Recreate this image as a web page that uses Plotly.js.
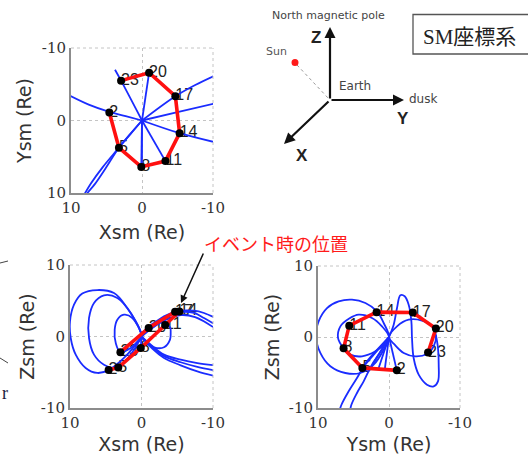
<!DOCTYPE html>
<html>
<head>
<meta charset="utf-8">
<script src="https://cdn.plot.ly/plotly-3.0.1.min.js"></script>
<style>html,body{margin:0;padding:0;background:#fff;}#chart{width:528px;height:455px;}</style>
</head>
<body>
<div id="chart"></div>
<script>
// ---- satellite positions (SM coordinates, Re) at each hour ----
const hours = ['2', '5', '8', '11', '14', '17', '20', '23'];
const xsm = [4.6, 3.25, 0.1, -3.3, -5.3, -4.7, -1.0, 2.95];
const ysm = [-1.1, 3.75, 6.4, 5.6, 1.75, -3.35, -6.6, -5.5];
const zsm = [-4.7, -4.35, -1.6, 1.6, 3.5, 3.45, 1.2, -2.2];

// ---- field lines, Xsm-Ysm projection ----
const fieldXY_X = [
  [0, 2.3, 4.6, 7.5, 10.5],
  [0, 2.95, 3.8],
  [0, -1.0],
  [0, -4.7, -7.5, -10.5],
  [0, -5.0, -10.5],
  [0, -5.3, -10.5],
  [0, -3.3],
  [0, 0.1],
  [0, 0.02],
  [0, 1.6, 3.25, 5.5, 7.2, 8.3],
  [0, 1.7, 3.25, 5.1, 6.7, 7.6, 7.9]
];
const fieldXY_Y = [
  [0, -0.6, -1.2, -2.2, -3.6],
  [0, -5.5, -7.0],
  [0, -6.6],
  [0, -3.35, -4.9, -6.3],
  [0, -1.15, -2.4],
  [0, 1.75, 3.05],
  [0, 5.6],
  [0, 6.4],
  [0, 6.3],
  [0, 1.8, 3.75, 6.4, 8.7, 10.5],
  [0, 1.95, 3.75, 6.55, 8.85, 9.9, 10.5]
];

// ---- field lines, Xsm-Zsm projection ----
const fieldXZ_X = [
  [0, 0.82, 1.98, 3.85, 6.18, 8.28, 9.44, 10.0, 9.9, 9.2, 7.81, 6.18, 4.6, 2.45, 0.82, 0],
  [0, 1.52, 3.38, 5.25, 6.64, 7.34, 7.34, 6.64, 5.25, 3.25, 1.52, 0.49, 0],
  [0, 1.28, 2.45, 3.38, 3.75, 3.6, 2.95, 1.52, 0.35, 0],
  [0, -1.05, -2.21, -3.3, -4.0, -4.08, -3.99, -3.15, -1.75, -0.58, 0],
  [0, -1.28, -3.15, -5.0, -7.34, -8.74, -10.5],
  [0, -1.4, -3.3, -5.3, -7.34, -8.74, -10.5],
  [0, -1.5, -3.5, -5.5, -7.5, -10.5],
  [0, -1.37, -3.15, -5.48, -7.81, -10.5],
  [0, -1.45, -3.15, -5.48, -7.81, -10.5],
  [0, -1.51, -3.15, -5.48, -7.81, -10.5],
  [0, -1.0],
  [0, 0.1]
];
const fieldXZ_Z = [
  [0, 2.12, 3.99, 6.08, 6.5, 6.0, 4.45, 2.12, -0.21, -2.54, -4.4, -5.1, -4.7, -3.0, -1.14, 0],
  [0, 3.29, 5.39, 5.76, 4.69, 2.59, -0.21, -2.54, -3.94, -4.35, -2.54, -0.9, 0],
  [0, 2.59, 3.05, 2.35, 0.96, -0.91, -2.2, -1.6, -0.44, 0],
  [0, 1.42, 2.0, 1.75, 1.3, 0.5, -0.44, -1.51, -1.51, -0.68, 0],
  [0, 1.42, 2.82, 3.52, 3.61, 3.29, 2.5],
  [0, 1.3, 2.6, 3.4, 3.29, 2.59, 1.55],
  [0, 1.2, 2.4, 3.0, 2.7, 1.0],
  [0, -1.23, -2.54, -3.24, -3.71, -4.05],
  [0, -1.45, -2.75, -3.6, -4.25, -4.8],
  [0, -1.7, -3.0, -4.03, -4.87, -5.6],
  [0, 1.2],
  [0, -1.6]
];

// ---- field lines, Ysm-Zsm projection ----
const fieldYZ_Y = [
  [0, 0.75, 1.69, 3.33, 5.21, 7.09, 8.73, 9.91, 10.28, 9.67, 8.26, 6.15, 4.04, 2.16, 0.75, 0],
  [0, 0.99, 2.4, 4.27, 5.6, 6.85, 7.18, 6.4, 5.45, 3.8, 1.92, 0.52, 0],
  [0, -1.13, -2.77, -4.65, -6.06, -6.62, -6.29, -5.35, -3.71, -2.07, -0.8, 0],
  [0, -0.66, -1.13, -1.6, -2.21, -2.77, -3.15, -3.24, -3.47, -4.18, -5.35, -6.29, -6.9, -7.0, -6.9, -6.6],
  [0, 1.46, 3.1, 4.51, 5.68, 6.71, 7.0],
  [0, 0.99, 2.4, 3.57, 4.51, 5.31, 5.5],
  [0, -1.1],
  [0, 3.75],
  [0, 1.5],
  [0, 0.6],
  [0, 2.6]
];
const fieldYZ_Z = [
  [0, 1.97, 3.61, 4.79, 5.26, 5.02, 4.08, 2.21, 0.1, -2.25, -4.13, -5.07, -5.07, -3.9, -1.78, 0],
  [0, 1.5, 2.68, 3.15, 2.6, 1.5, -0.14, -1.6, -2.49, -2.72, -2.02, -0.85, 0],
  [0, 1.5, 2.44, 2.3, 1.5, 0.1, -1.31, -2.39, -2.72, -2.25, -1.08, 0],
  [0, 1.74, 4.08, 5.87, 5.73, 4.55, 2.21, -0.14, -2.96, -5.3, -6.71, -6.95, -6.24, -3.9, -1.55, 0.3],
  [0, -1.55, -3.43, -5.78, -7.65, -9.58, -10.5],
  [0, -1.78, -3.9, -6.24, -7.89, -9.58, -10.5],
  [0, -4.7],
  [0, -4.35],
  [0, -4.5],
  [0, -4.6],
  [0, -4.4]
];

const tickVals = [-10, 0, 10];
const tickText = ['-10', '0', '10'];

// ---- helpers ----
const W = 528, H = 455;
const px = x => x / W;
const py = y => 1 - y / H;
const BLUE = '#1a2cff';

const traces = [];
function panel(xs, ys, fx, fy, xa, ya) {
  // labels first (they sit under the lines)
  traces.push({x: xs, y: ys, text: hours, mode: 'text', textposition: 'middle right',
    textfont: {family: 'Liberation Sans, Arial', size: 16, color: '#222'},
    xaxis: xa, yaxis: ya, hoverinfo: 'skip', cliponaxis: false});
  for (let i = 0; i < fx.length; i++) {
    traces.push({x: fx[i], y: fy[i], mode: 'lines', line: {color: BLUE, width: 1.8, shape: 'spline', smoothing: 1},
      xaxis: xa, yaxis: ya, hoverinfo: 'skip'});
  }
  traces.push({x: xs, y: ys, mode: 'lines', line: {color: '#ff1010', width: 3.6},
    xaxis: xa, yaxis: ya, hoverinfo: 'skip'});
  traces.push({x: xs, y: ys, mode: 'markers', marker: {color: '#000', size: 8},
    xaxis: xa, yaxis: ya, hoverinfo: 'skip'});
}
panel(xsm, ysm, fieldXY_X, fieldXY_Y, 'x', 'y');
panel(xsm, zsm, fieldXZ_X, fieldXZ_Z, 'x2', 'y2');
panel(ysm, zsm, fieldYZ_Y, fieldYZ_Z, 'x3', 'y3');

function axis(domain, range, anchor, title, standoff) {
  return {
    domain: domain, range: range, anchor: anchor,
    tickmode: 'array', tickvals: tickVals, ticktext: tickText,
    showgrid: true, gridcolor: '#c4c4c4', griddash: 'dot', gridwidth: 1,
    zeroline: false, showline: true, linecolor: '#8c8c8c', linewidth: 2,
    ticks: '', tickfont: {family: 'DejaVu Serif', size: 15, color: '#333'},
    title: {text: title, font: {family: 'DejaVu Sans', size: 19, color: '#333'}, standoff: standoff},
    fixedrange: true, automargin: false
  };
}

const dom1x = [px(71), px(213)], dom1y = [py(193), py(48)];
const dom2x = [px(70), px(213)], dom2y = [py(408), py(265)];
const dom3x = [px(318), px(460)], dom3y = [py(408), py(266)];

const shapes = [];
[['x', 'y'], ['x2', 'y2'], ['x3', 'y3']].forEach(([xa, ya]) => {
  shapes.push({type: 'line', xref: xa + ' domain', yref: ya + ' domain', x0: 0, x1: 1, y0: 1, y1: 1,
    line: {color: '#c4c4c4', width: 1, dash: 'dot'}});
  shapes.push({type: 'line', xref: xa + ' domain', yref: ya + ' domain', x0: 1, x1: 1, y0: 0, y1: 1,
    line: {color: '#c4c4c4', width: 1, dash: 'dot'}});
});
// coordinate-system box
shapes.push({type: 'rect', xref: 'paper', yref: 'paper', x0: px(413), x1: px(535), y0: py(54), y1: py(14.5),
  line: {color: '#555', width: 1.3}, fillcolor: 'rgba(0,0,0,0)'});
// sun and sun-earth line
shapes.push({type: 'line', xref: 'paper', yref: 'paper', x0: px(297), y0: py(65), x1: px(329), y1: py(99),
  line: {color: '#999', width: 1, dash: 'dot'}});
shapes.push({type: 'circle', xref: 'paper', yref: 'paper', x0: px(291.5), x1: px(298.5), y0: py(66), y1: py(59),
  fillcolor: '#ff1a1a', line: {width: 0}});
// remnants at the left edge
shapes.push({type: 'line', xref: 'paper', yref: 'paper', x0: 0, y0: py(263), x1: px(8), y1: py(261),
  line: {color: '#444', width: 1}});
shapes.push({type: 'line', xref: 'paper', yref: 'paper', x0: 0, y0: py(358), x1: px(8), y1: py(363),
  line: {color: '#444', width: 1}});

function txt(x, y, s, size, color, family, extra) {
  return Object.assign({xref: 'paper', yref: 'paper', x: px(x), y: py(y), text: s, showarrow: false,
    xanchor: 'center', yanchor: 'middle',
    font: {size: size, color: color, family: family || 'DejaVu Sans'}}, extra || {});
}
function arrow(x, y, ax, ay, w) {
  return {xref: 'paper', yref: 'paper', x: px(x), y: py(y), ax: ax, ay: ay, text: '', showarrow: true,
    arrowhead: 2, arrowsize: 1, arrowwidth: w, arrowcolor: '#111'};
}

const annotations = [
  txt(328, 16, 'North magnetic pole', 11, '#444'),
  txt(316, 37, '<b>Z</b>', 17, '#222', 'Liberation Sans, Arial'),
  txt(276.5, 51, 'Sun', 11, '#555'),
  txt(355, 86, 'Earth', 12, '#444'),
  txt(423, 99, 'dusk', 12, '#444'),
  txt(403, 119, '<b>Y</b>', 17, '#222', 'Liberation Sans, Arial'),
  txt(302, 155, '<b>X</b>', 17, '#222', 'Liberation Sans, Arial'),
  txt(469, 36.5, 'SM座標系', 21, '#222', 'Liberation Serif, Noto Sans CJK JP'),
  txt(276, 243, 'イベント時の位置', 18, '#ff1a1a', 'Noto Sans CJK JP'),
  txt(5, 393, 'r', 18, '#1a1a40', 'Liberation Serif'),
  arrow(330, 27, 0, 73, 2.2),
  arrow(404, 100, -74, 0, 2.2),
  arrow(284, 144, 46, -44, 2.2),
  arrow(181, 303, 23, -51, 1.5)
];

const layout = {
  width: W, height: H, margin: {l: 0, r: 0, t: 0, b: 0},
  paper_bgcolor: '#fff', plot_bgcolor: '#fff', showlegend: false,
  xaxis: axis(dom1x, [10, -10], 'y', 'Xsm (Re)', 10),
  yaxis: axis(dom1y, [10, -10], 'x', 'Ysm (Re)', 5),
  xaxis2: axis(dom2x, [10, -10], 'y2', 'Xsm (Re)', 30),
  yaxis2: axis(dom2y, [-10, 10], 'x2', 'Zsm (Re)', 1),
  xaxis3: axis(dom3x, [10, -10], 'y3', 'Ysm (Re)', 30),
  yaxis3: axis(dom3y, [-10, 10], 'x3', 'Zsm (Re)', 4),
  shapes: shapes, annotations: annotations
};

Plotly.newPlot('chart', traces, layout, {staticPlot: true, displayModeBar: false});
</script>
</body>
</html>
